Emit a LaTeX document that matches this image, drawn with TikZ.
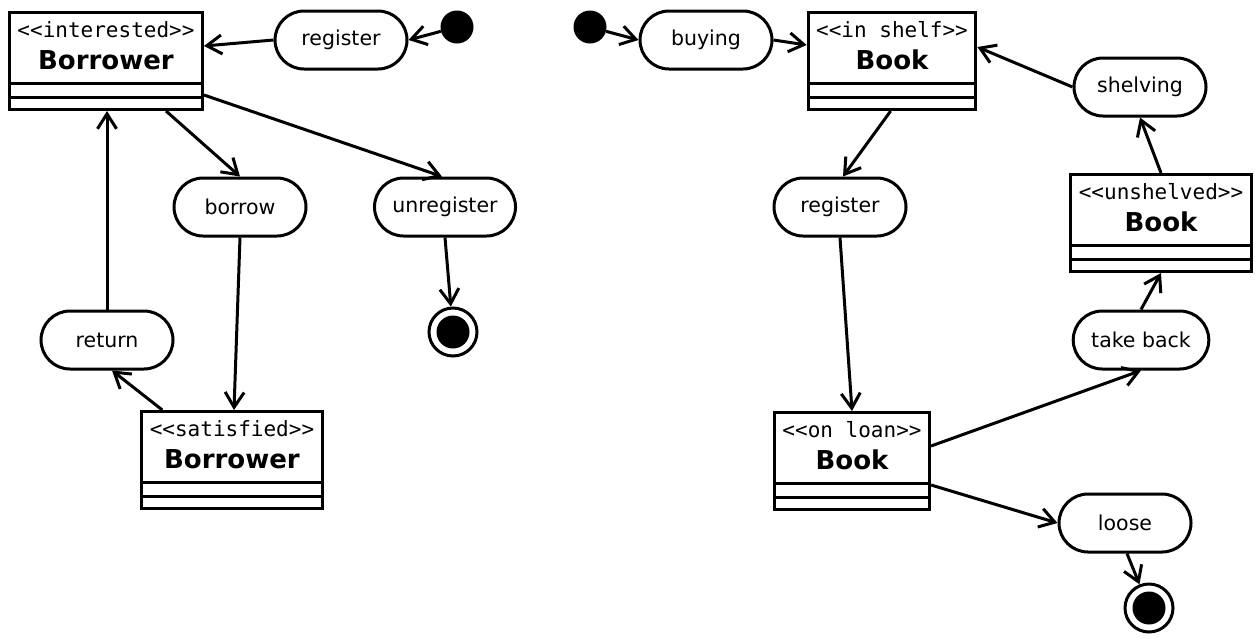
\documentclass[tikz,border=0pt]{standalone}
\usepackage{fontspec}
\setmainfont{DejaVu Sans}
\newfontfamily\monofont{DejaVu Sans Mono}
\usetikzlibrary{
  calc,positioning,
  arrows.meta
}

\newcommand{\stereo}[1]{<\kern0pt<#1>\kern0pt>}
\newcommand{\classtext}[2]{%
  {\setlength{\arrayrulewidth}{3pt}\renewcommand{\arraystretch}{0}%
  \begin{tabular}{@{\hspace{8pt}}c@{\hspace{8pt}}}
    \rule[-8pt]{0pt}{33pt}{\monofont\fontsize{21}{25}\selectfont\stereo{#1}}\\
    \rule[-12.5pt]{0pt}{36pt}{\fontsize{26}{30}\selectfont\bfseries #2}\\\hline
    \rule{0pt}{11pt}\\\hline
    \rule{0pt}{11pt}
  \end{tabular}}}

\begin{document}
\begin{tikzpicture}[x=1pt,y=-1pt,
  font=\fontsize{20.5}{24}\selectfont,
  pill/.style={draw,line width=3pt,rounded corners=29pt,
    minimum width=132pt,minimum height=58pt,inner xsep=18pt},
  classbox/.style={draw,line width=3pt,anchor=north,inner sep=0pt},
  startdot/.style={circle,fill=black,inner sep=0pt,minimum size=33pt},
  enddot/.style={circle,draw,line width=3pt,inner sep=0pt,minimum size=48pt,
    path picture={\fill (path picture bounding box.center) circle (16.5pt);}},
  flow/.style={line width=3pt,-{Straight Barb[length=15pt,width=19pt]}}
]
\useasboundingbox (0,0) rectangle (1255,638);

% borrower
\node[classbox] (interested) at (106,11) {\classtext{interested}{Borrower}};
\node[startdot] (start1) at (457,27) {};
\node[pill] (register1) at (341,40) {register};
\node[pill] (borrow) at (240,207) {borrow};
\node[pill] (unregister) at (445,207) {unregister};
\node[enddot] (end1) at (453,332) {};
\node[pill] (return) at (107,340) {return};
\node[classbox] (satisfied) at (232,410) {\classtext{satisfied}{Borrower}};

\draw[flow] (start1) -- (register1.east);
\draw[flow] (register1.west) -- ($(interested.north east)+(0,35)$);
\draw[flow] ($(interested.south west)+(158,0)$) -- (borrow.north);
\draw[flow] ($(interested.north east)+(0,84)$) -- ($(unregister.north)+(-3,0)$);
\draw[flow] (borrow.south) -- ($(satisfied.north)+(2,0)$);
\draw[flow] (unregister.south) -- (end1);
\draw[flow] ($(satisfied.north west)+(22,0)$) -- ($(return.south)+(5,0)$);
\draw[flow] (return.north) -- (interested.south -| return.north);

% book
\node[startdot] (start2) at (590,27) {};
\node[pill] (buying) at (706,40) {buying};
\node[classbox] (inshelf) at (892,11) {\classtext{in shelf}{Book}};
\node[pill] (shelving) at (1140,87) {shelving};
\node[pill] (register2) at (840,207) {register};
\node[classbox] (unshelved) at (1161,173) {\classtext{unshelved}{Book}};
\node[pill] (takeback) at (1141,340) {take back};
\node[classbox] (onloan) at (852,411) {\classtext{on loan}{Book}};
\node[pill] (loose) at (1125,523) {loose};
\node[enddot] (end2) at (1149,608) {};

\draw[flow] (start2) -- (buying.west);
\draw[flow] (buying.east) -- ($(inshelf.north west)+(0,34)$);
\draw[flow] (shelving.west) -- ($(inshelf.north east)+(0,36)$);
\draw[flow] ($(inshelf.south west)+(84,0)$) -- ($(register2.north)+(3,0)$);
\draw[flow] (unshelved.north) -- (shelving.south);
\draw[flow] (register2.south) -- (onloan.north);
\draw[flow] ($(onloan.north east)+(0,35)$) -- (takeback.south);
\draw[flow] (takeback.north) -- (unshelved.south);
\draw[flow] ($(onloan.north east)+(0,74)$) -- (loose.west);
\draw[flow] ($(loose.south)+(2,0)$) -- (end2);
\end{tikzpicture}
\end{document}
